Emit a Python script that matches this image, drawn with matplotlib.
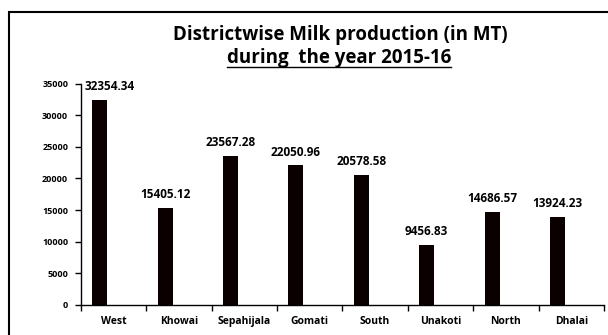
import matplotlib
matplotlib.use("Agg")
import matplotlib.pyplot as plt
from matplotlib.patches import Rectangle
from matplotlib.lines import Line2D
import numpy as np

districts = ["West", "Khowai", "Sepahijala", "Gomati", "South", "Unakoti", "North", "Dhalai"]
milk_mt = [32354.34, 15405.12, 23567.28, 22050.96, 20578.58, 9456.83, 14686.57, 13924.23]
yticks = [0, 5000, 10000, 15000, 20000, 25000, 30000, 35000]

plt.rcParams['font.family'] = ['Open Sans', 'DejaVu Sans']
plt.rcParams['font.weight'] = 'bold'

W, H = 608, 335
DPI = 100
fig = plt.figure(figsize=(W / DPI, H / DPI), dpi=DPI)
ax = fig.add_axes([80.7 / W, 1 - 305 / H, (604 - 80.7) / W, (305 - 83.5) / H])

# bars sit in the left half of each category slot (second series slot is empty)
x = np.arange(len(districts))
bar_x = x - 0.21
ax.bar(bar_x, milk_mt, width=0.23, color="#0a0000")

ax.set_xlim(-0.5, len(districts) - 0.5)
ax.set_ylim(0, 35000)
ax.set_yticks(yticks)
ax.set_yticklabels([str(t) for t in yticks], fontsize=6.5, fontweight="bold")
ax.set_xticks(x)
ax.set_xticklabels(districts, fontsize=7.5, fontweight="bold")
ax.set_xticks(np.arange(len(districts) + 1) - 0.5, minor=True)
ax.tick_params(axis="x", which="major", length=0, pad=8)
ax.tick_params(axis="x", which="minor", length=4, width=1, direction="out")
ax.tick_params(axis="y", length=4, width=1, direction="out", pad=5)
for s in ["top", "right"]:
    ax.spines[s].set_visible(False)
for s in ["left", "bottom"]:
    ax.spines[s].set_linewidth(1)

labels = []
for bx, v in zip(bar_x, milk_mt):
    labels.append(ax.annotate(f"{v:.2f}", (bx, v), xytext=(0, 5), textcoords="offset points",
                              ha="center", va="bottom", fontsize=8.5, fontweight="bold"))

# chart frame, cut off at the right and bottom edges
fig.patches.append(Rectangle((8.5 / W, -0.1), 1.2, 1.1 - 12.5 / H, transform=fig.transFigure,
                             fill=False, edgecolor="black", linewidth=1.5))

fig.text(340 / W, 1 - 35 / H, "Districtwise Milk production (in MT)", ha="center", va="center",
         fontsize=13.5, fontweight="bold")
sub = fig.text(339 / W, 1 - 58 / H, "during  the year 2015-16", ha="center", va="center",
               fontsize=13.5, fontweight="bold")

fig.canvas.draw()
# keep value labels inside the plot area
ax_left = ax.get_window_extent().x0
for t in labels:
    bb = t.get_window_extent()
    if bb.x0 < ax_left + 4:
        shift_px = ax_left + 4 - bb.x0
        t.xyann = (shift_px * 72 / DPI, 5)

bb = sub.get_window_extent().transformed(fig.transFigure.inverted())
fig.lines.append(Line2D([bb.x0, bb.x1], [bb.y0 + 1.5 / H, bb.y0 + 1.5 / H],
                        transform=fig.transFigure, color="black", linewidth=1))

fig.savefig("out.png", dpi=DPI)
